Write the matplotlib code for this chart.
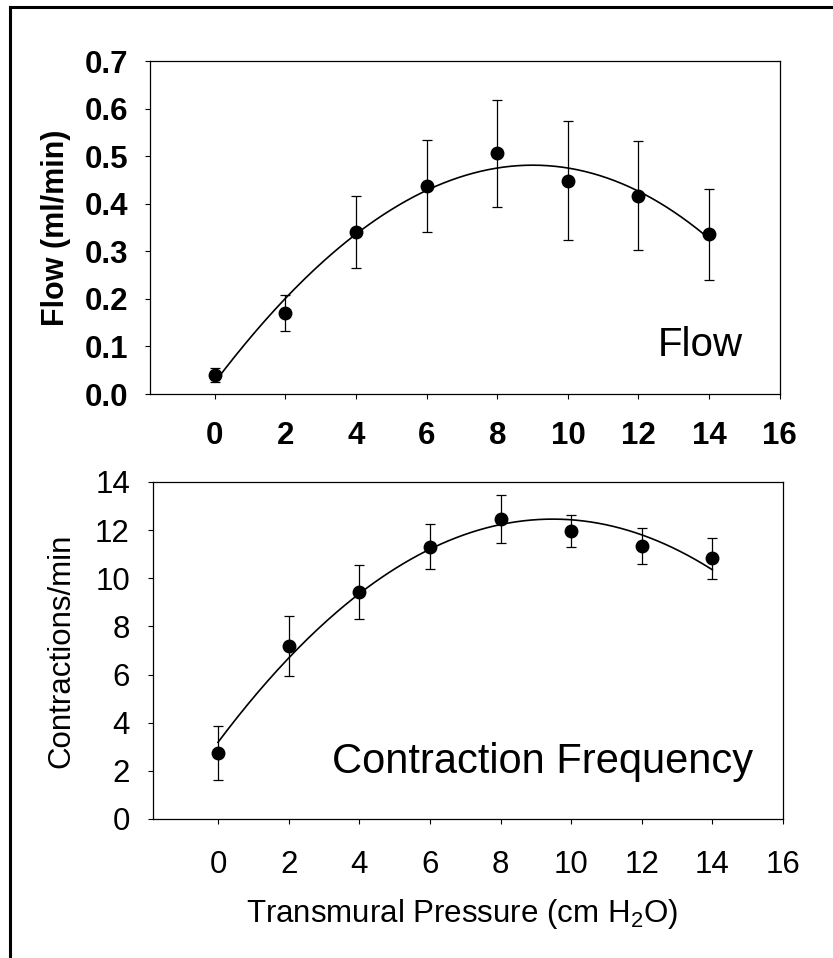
import numpy as np
import matplotlib
matplotlib.use("Agg")
import matplotlib.pyplot as plt
from matplotlib.lines import Line2D

plt.rcParams['font.family'] = ['Liberation Sans', 'DejaVu Sans']
plt.rcParams['mathtext.fontset'] = 'custom'
plt.rcParams['mathtext.rm'] = 'Liberation Sans'

# transmural pressure (cm H2O)
pressure = [0, 2, 4, 6, 8, 10, 12, 14]

# flow (ml/min), mean and error
flow = [0.04, 0.17, 0.34, 0.437, 0.506, 0.448, 0.417, 0.336]
flow_err = [0.015, 0.038, 0.076, 0.097, 0.113, 0.125, 0.115, 0.096]

# contraction frequency (contractions/min)
freq = [2.75, 7.2, 9.42, 11.31, 12.45, 11.95, 11.34, 10.83]
freq_err = [1.13, 1.25, 1.13, 0.93, 1.0, 0.66, 0.74, 0.85]

xticks = [0, 2, 4, 6, 8, 10, 12, 14, 16]
flow_ticks = [0.0, 0.1, 0.2, 0.3, 0.4, 0.5, 0.6, 0.7]
freq_ticks = [0, 2, 4, 6, 8, 10, 12, 14]

fig = plt.figure(figsize=(8.33, 9.58), dpi=100)

# border (top + left only, like the scan)
fig.add_artist(Line2D([0.012, 1.0], [0.9925, 0.9925], color='black', lw=2.2, transform=fig.transFigure))
fig.add_artist(Line2D([0.012, 0.012], [0.0, 0.9925], color='black', lw=2.2, transform=fig.transFigure))

ax1 = fig.add_axes([0.180, 0.5887, 0.756, 0.3476])
ax2 = fig.add_axes([0.1837, 0.1451, 0.7563, 0.3518])

xs = np.linspace(0, 14, 200)


def style(ax, xpad, ypad, weight):
    ax.set_xlim(-1.84, 16)
    ax.set_xticks(xticks)
    for s in ax.spines.values():
        s.set_linewidth(0.9)
    ax.tick_params(direction='out', length=3.6, width=0.8, labelsize=22.5)
    ax.tick_params(axis='x', pad=xpad)
    ax.tick_params(axis='y', pad=ypad)
    for lab in ax.get_xticklabels() + ax.get_yticklabels():
        lab.set_fontweight(weight)


# top: flow
c1 = np.polyfit(pressure, flow, 3)
ax1.plot(xs, np.polyval(c1, xs), color='black', lw=1.2)
ax1.errorbar(pressure, flow, yerr=flow_err, fmt='o', color='black', ms=9,
             elinewidth=0.9, capsize=3.5, capthick=0.9)
ax1.set_ylim(0, 0.7)
ax1.set_yticks(flow_ticks)
ax1.set_yticklabels(['%.1f' % v for v in flow_ticks])
style(ax1, 16, 12, 'bold')
ax1.set_ylabel('Flow (ml/min)', fontsize=22, fontweight='bold')
ax1.yaxis.set_label_coords(-0.125, 0.5)
ax1.text(0.941, 0.114, 'Flow', transform=ax1.transAxes, ha='right', va='baseline', fontsize=29)

# bottom: contraction frequency
c2 = np.polyfit(pressure, freq, 2)
ax2.plot(xs, np.polyval(c2, xs), color='black', lw=1.2)
ax2.errorbar(pressure, freq, yerr=freq_err, fmt='o', color='black', ms=9,
             elinewidth=0.9, capsize=3.5, capthick=0.9)
ax2.set_ylim(0, 14)
ax2.set_yticks(freq_ticks)
style(ax2, 19, 13, 'normal')
ax2.set_ylabel('Contractions/min', fontsize=22.5)
ax2.yaxis.set_label_coords(-0.122, 0.5)
ax2.set_xlabel('Transmural Pressure (cm H$_2$O)', fontsize=22.5)
ax2.xaxis.set_label_coords(0.491, -0.231)
ax2.text(0.284, 0.1365, 'Contraction Frequency', transform=ax2.transAxes, ha='left', va='baseline', fontsize=30)

fig.savefig('out.png', dpi=100)
